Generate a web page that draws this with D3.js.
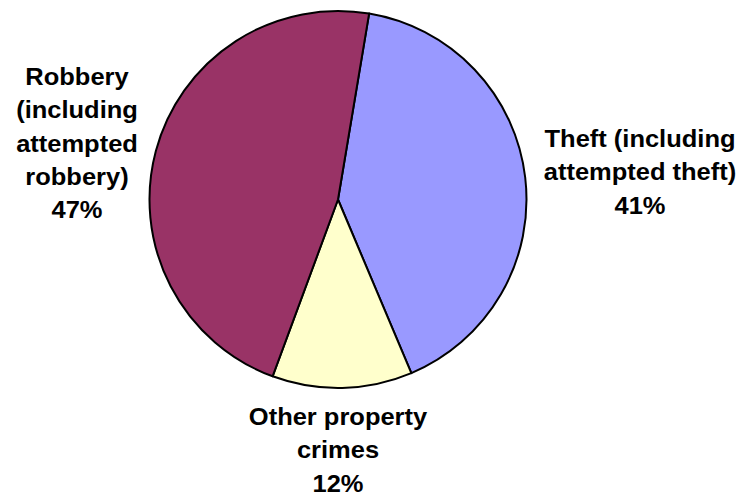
<!DOCTYPE html>
<html>
<head>
<meta charset="utf-8">
<script src="https://cdn.jsdelivr.net/npm/d3@7/dist/d3.min.js"></script>
<style>
  html, body { margin: 0; padding: 0; background: #fff; }
  svg { display: block; }
  text { font-family: "Liberation Sans", Arial, sans-serif; font-weight: bold; fill: #000; }
</style>
</head>
<body>
<script>
// Share of property crimes by type
const categories = ["Theft (including attempted theft)", "Other property crimes", "Robbery (including attempted robbery)"];
const values = [41, 12, 47];
const colors = ["#9999FF", "#FFFFCC", "#993366"];
// label text split into lines
const labelLines = [
  ["Theft (including", "attempted theft)", "41%"],
  ["Other property", "crimes", "12%"],
  ["Robbery", "(including", "attempted", "robbery)", "47%"]
];
// first-baseline anchor of each label block
const labelAnchors = [[640, 147], [338, 425], [77, 85]];

const W = 747, H = 502;
const cx = 338, cy = 199.5, R = 188.5;
const startDeg = 9.5;

const svg = d3.select("body").append("svg").attr("width", W).attr("height", H);

const pie = d3.pie().sort(null).value(d => d)
  .startAngle(startDeg * Math.PI / 180)
  .endAngle((startDeg + 360) * Math.PI / 180);
const arc = d3.arc().innerRadius(0).outerRadius(R);

const g = svg.append("g").attr("transform", `translate(${cx},${cy})`);
g.selectAll("path").data(pie(values)).join("path")
  .attr("d", arc)
  .attr("fill", (d, i) => colors[i])
  .attr("stroke", "#000")
  .attr("stroke-width", 2)
  .attr("stroke-linejoin", "round");

const lineH = 33.3;
labelLines.forEach((lines, i) => {
  const [x, y] = labelAnchors[i];
  const t = svg.append("text")
    .attr("text-anchor", "middle")
    .attr("font-size", 24.5)
    .attr("transform", `translate(${x},${y}) scale(1.04,1)`);
  lines.forEach((s, j) => {
    t.append("tspan").attr("x", 0).attr("y", j * lineH).text(s);
  });
});
</script>
</body>
</html>
